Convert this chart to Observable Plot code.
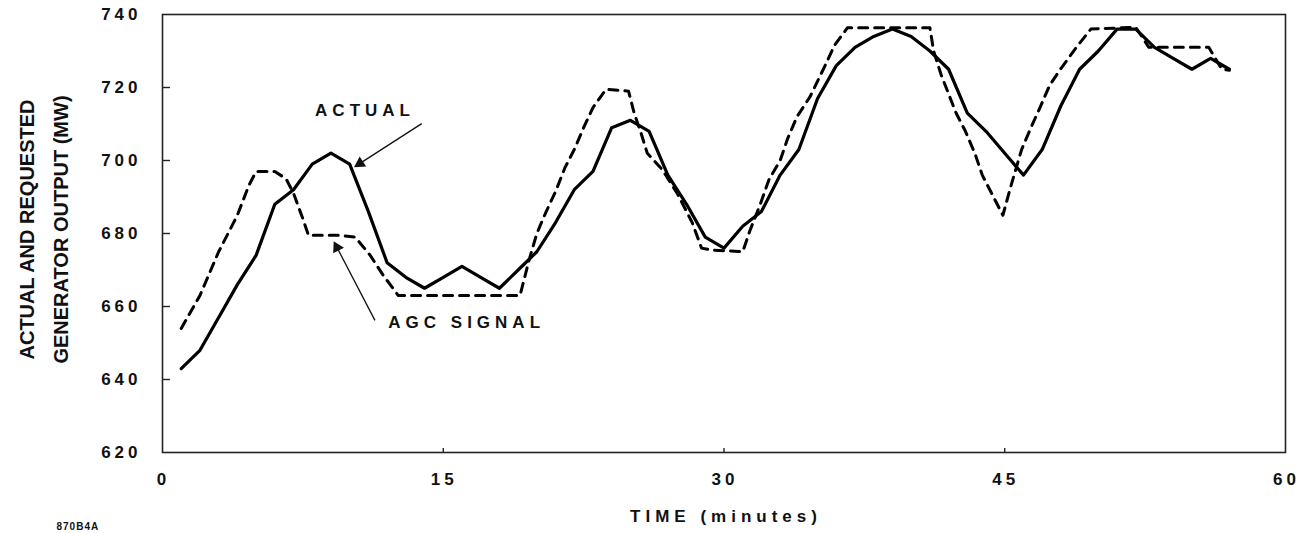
<!DOCTYPE html>
<html>
<head>
<meta charset="utf-8">
<script src="https://cdn.jsdelivr.net/npm/d3@7"></script>
<script src="https://cdn.jsdelivr.net/npm/@observablehq/plot@0.6"></script>
<style>
  html, body { margin: 0; padding: 0; background: #fff; }
  #chart svg { display: block; }
  #chart svg text { letter-spacing: 5px; }
  #chart g[aria-label="y-axis tick label"] text,
  #chart g[aria-label="x-axis tick label"] text { letter-spacing: 4px; }
  #chart g[aria-description="ylabel"] text { letter-spacing: 0px; }
  #chart g[aria-description="caption"] text { letter-spacing: 1px; }
</style>
</head>
<body>
<div id="chart"></div>
<script>
// ---- data ----
const actualTime = [1,2,3,4,5,6,7,8,9,10,11,12,13,14,15,16,17,18,19,20,21,22,23,24,25,26,27,28,29,30,31,32,33,34,35,36,37,38,39,40,41,42,43,44,45,46,47,48,49,50,51,52,53,54,55,56,57];
const actualMW   = [643,648,657,666,674,688,692,699,702,699,686,672,668,665,668,671,668,665,670,675,683,692,697,709,711,708,696,688,679,676,682,686,696,703,717,726,731,734,736,734,730,725,713,708,702,696,703,715,725,730,736,736,731,728,725,728,725];

const agcTime = [1,2,3,4,4.6,5,6,6.6,7,7.5,7.8,9.5,10.3,11.1,11.8,12.6,19.1,19.6,20,20.5,21,21.5,22,22.5,23,23.7,24.9,25.2,25.6,25.9,26.7,27.5,28.3,28.8,29.3,31,31.4,31.9,32.4,33,33.4,33.9,34.6,35.4,35.9,36.6,41,41.2,41.6,42.4,42.9,43.4,43.8,44.4,44.9,45.3,45.9,46.4,46.9,47.4,48,48.9,49.6,52,52.7,55.9,56.6,57];
const agcMW   = [654,663,675,685,693,697,697,695,691,684,679.5,679.5,679,674,668.5,663,663,673,680,686,691.5,698,703,709,714.5,719.5,719,713,707,702,697.5,691,683,676,675.5,675,681,687.5,694.7,700,706,712,717.5,726,731.5,736.4,736.4,730,723.5,713,708,702,696,690,685,692.5,703,709,714.7,720.6,725.2,731.5,736,736.5,731,731,725,724.7];

const xTicks = [0, 15, 30, 45, 60];
const xInnerTicks = [15, 30, 45];
const yTicks = [620, 640, 660, 680, 700, 720, 740];
const yInnerTicks = [640, 660, 680, 700, 720];

const annotText = ["ACTUAL", "AGC SIGNAL"];
const annotX = [10.66, 16.09];
const annotY = [713.7, 655.6];
const arrowX1 = [13.85, 11.35];
const arrowY1 = [710.1, 656.2];
const arrowX2 = [10.55, 9.32];
const arrowY2 = [699.2, 676.2];

const xLabel = "TIME (minutes)";
const yLabelLines = ["ACTUAL AND REQUESTED", "GENERATOR OUTPUT (MW)"];
const captionText = "870B4A";

// ---- chart ----
function build(headAngles) {
  return Plot.plot({
    width: 1300,
    height: 533,
    marginLeft: 162,
    marginRight: 15,
    marginTop: 14,
    marginBottom: 81,
    style: {
      fontFamily: "'Liberation Sans', Arial, sans-serif",
      fontWeight: "bold",
      fontSize: "16px",
      color: "#111",
      background: "#fff"
    },
    x: { domain: [0, 60] },
    y: { domain: [620, 740] },
    marks: [
      Plot.frame({ stroke: "#222", strokeWidth: 1.6 }),
      // tick labels
      Plot.axisY({ ticks: yTicks, tickSize: 0, tickPadding: 21, fontSize: 17, fontWeight: "bold", label: null, fill: "#111" }),
      Plot.axisX({ ticks: xTicks, tickSize: 0, tickPadding: 20, fontSize: 17, fontWeight: "bold", dx: 1, label: null, fill: "#111" }),
      // inner tick marks
      Plot.axisY({ ticks: yInnerTicks, tickSize: -8, tickFormat: () => "", label: null, stroke: "#222", strokeWidth: 1.4 }),
      Plot.axisX({ ticks: xInnerTicks, tickSize: -4, tickFormat: () => "", label: null, stroke: "#222", strokeWidth: 1.4 }),
      // series
      Plot.line(agcMW, { x: agcTime, y: agcMW, stroke: "#000", strokeWidth: 3, strokeDasharray: "9,7", strokeLinejoin: "round" }),
      Plot.line(actualMW, { x: actualTime, y: actualMW, stroke: "#000", strokeWidth: 3.2, strokeLinejoin: "round", strokeLinecap: "round" }),
      // annotations
      Plot.link(annotText, { x1: arrowX1, y1: arrowY1, x2: arrowX2, y2: arrowY2, stroke: "#111", strokeWidth: 1.3 }),
      Plot.dot(annotText, { x: arrowX2, y: arrowY2, symbol: "triangle", r: 4.5, fill: "#111", stroke: "none",
        rotate: (d, i) => headAngles[i], dx: 0, dy: 0 }),
      Plot.text(annotText, { x: annotX, y: annotY, text: annotText, fontSize: 17, fontWeight: "bold", dx: 3, fill: "#111" }),
      // axis titles
      Plot.text([xLabel], { frameAnchor: "bottom", text: d => d, dy: 69, dx: 2, fontSize: 17, fontWeight: "bold", fill: "#111" }),
      Plot.text([yLabelLines.join("\n")], { frameAnchor: "left", text: d => d, textAnchor: "middle", lineAnchor: "middle", rotate: -90, dx: -122, dy: -4, lineHeight: 1.7, fontSize: 20, fontWeight: "bold", fill: "#111", ariaDescription: "ylabel" }),
      Plot.text([captionText], { frameAnchor: "bottom-left", text: d => d, textAnchor: "start", dx: -106, dy: 77, fontSize: 10, fontWeight: "bold", fill: "#111", ariaDescription: "caption" })
    ]
  });
}

// first pass to obtain the scales, then orient the arrowheads in screen space
const probe = build([0, 0]);
const sx = probe.scale("x"), sy = probe.scale("y");
const headAngles = annotText.map((_, i) => {
  const dx = sx.apply(arrowX2[i]) - sx.apply(arrowX1[i]);
  const dy = sy.apply(arrowY2[i]) - sy.apply(arrowY1[i]);
  return Math.atan2(dx, -dy) * 180 / Math.PI;
});
const chart = build(headAngles);
document.getElementById("chart").appendChild(chart);
</script>
</body>
</html>
